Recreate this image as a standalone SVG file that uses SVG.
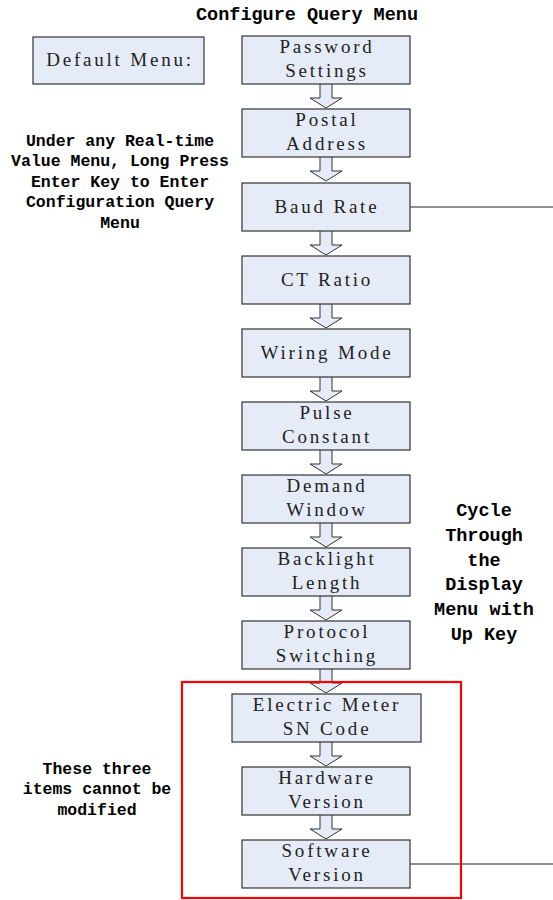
<svg xmlns="http://www.w3.org/2000/svg" width="553" height="900" viewBox="0 0 553 900">
<style>
.box{fill:#e6ecf7;stroke:#333;stroke-width:1.2}
.t{font-family:"Liberation Serif","DejaVu Serif",serif;font-size:19px;letter-spacing:2.8px;fill:#222;text-anchor:middle}
.b{font-family:"Liberation Mono","DejaVu Sans Mono",monospace;font-weight:bold;font-size:16.5px;fill:#000;text-anchor:middle}
.arr{fill:#e6ecf7;stroke:#333;stroke-width:1}
.ln{stroke:#222;stroke-width:1.2;fill:none}
</style>
<defs>
<path id="ba" d="M-6,0 V14 H-16 L0,24 L16,14 H6 V0" class="arr"/>
</defs>
<rect width="553" height="900" fill="#fff"/>
<text class="b" x="307" y="20" style="font-size:18.5px">Configure Query Menu</text>
<g id="default"><rect class="box" x="33" y="37" width="171" height="47"/><text class="t" x="120" y="66">Default Menu:</text></g>
<g id="connectors">
<use href="#ba" x="326" y="84"/>
<use href="#ba" x="326" y="157"/>
<use href="#ba" x="326" y="231"/>
<use href="#ba" x="326" y="304"/>
<use href="#ba" x="326" y="377"/>
<use href="#ba" x="326" y="450"/>
<use href="#ba" x="326" y="523"/>
<use href="#ba" x="326" y="596"/>
<use href="#ba" x="326" y="669"/>
<use href="#ba" x="326" y="742"/>
<use href="#ba" x="326" y="815"/>
<line class="ln" x1="410" y1="207" x2="553" y2="207"/>
<line class="ln" x1="410" y1="864" x2="553" y2="864"/>
</g>
<g id="n1"><rect class="box" x="242" y="36" width="168" height="48"/><text class="t" x="327" y="53">Password</text><text class="t" x="327" y="77">Settings</text></g>
<g id="n2"><rect class="box" x="242" y="109" width="168" height="48"/><text class="t" x="327" y="126">Postal</text><text class="t" x="327" y="150">Address</text></g>
<g id="n3"><rect class="box" x="242" y="183" width="168" height="48"/><text class="t" x="327" y="213">Baud Rate</text></g>
<g id="n4"><rect class="box" x="242" y="256" width="168" height="48"/><text class="t" x="327" y="286">CT Ratio</text></g>
<g id="n5"><rect class="box" x="242" y="329" width="168" height="48"/><text class="t" x="327" y="359">Wiring Mode</text></g>
<g id="n6"><rect class="box" x="242" y="402" width="168" height="48"/><text class="t" x="327" y="419">Pulse</text><text class="t" x="327" y="443">Constant</text></g>
<g id="n7"><rect class="box" x="242" y="475" width="168" height="48"/><text class="t" x="327" y="492">Demand</text><text class="t" x="327" y="516">Window</text></g>
<g id="n8"><rect class="box" x="242" y="548" width="168" height="48"/><text class="t" x="327" y="565">Backlight</text><text class="t" x="327" y="589">Length</text></g>
<g id="n9"><rect class="box" x="242" y="621" width="168" height="48"/><text class="t" x="327" y="638">Protocol</text><text class="t" x="327" y="662">Switching</text></g>
<g id="group"><rect x="182" y="682" width="279" height="216" fill="none" stroke="#f00" stroke-width="2.2"/></g>
<g id="n10"><rect class="box" x="232" y="694" width="189" height="48"/><text class="t" x="327" y="711">Electric Meter</text><text class="t" x="327" y="735">SN Code</text></g>
<g id="n11"><rect class="box" x="242" y="767" width="168" height="48"/><text class="t" x="327" y="784">Hardware</text><text class="t" x="327" y="808">Version</text></g>
<g id="n12"><rect class="box" x="242" y="840" width="168" height="48"/><text class="t" x="327" y="857">Software</text><text class="t" x="327" y="881">Version</text></g>
<g id="note1">
<text class="b" x="120" y="146">Under any Real-time</text>
<text class="b" x="120" y="166">Value Menu, Long Press</text>
<text class="b" x="120" y="187">Enter Key to Enter</text>
<text class="b" x="120" y="207">Configuration Query</text>
<text class="b" x="120" y="228">Menu</text>
</g>
<g id="note2">
<text class="b" x="484" y="516" style="font-size:18.5px">Cycle</text>
<text class="b" x="484" y="541" style="font-size:18.5px">Through</text>
<text class="b" x="484" y="566" style="font-size:18.5px">the</text>
<text class="b" x="484" y="590" style="font-size:18.5px">Display</text>
<text class="b" x="484" y="615" style="font-size:18.5px">Menu with</text>
<text class="b" x="484" y="640" style="font-size:18.5px">Up Key</text>
</g>
<g id="note3">
<text class="b" x="97" y="774">These three</text>
<text class="b" x="97" y="794">items cannot be</text>
<text class="b" x="97" y="815">modified</text>
</g>
</svg>
